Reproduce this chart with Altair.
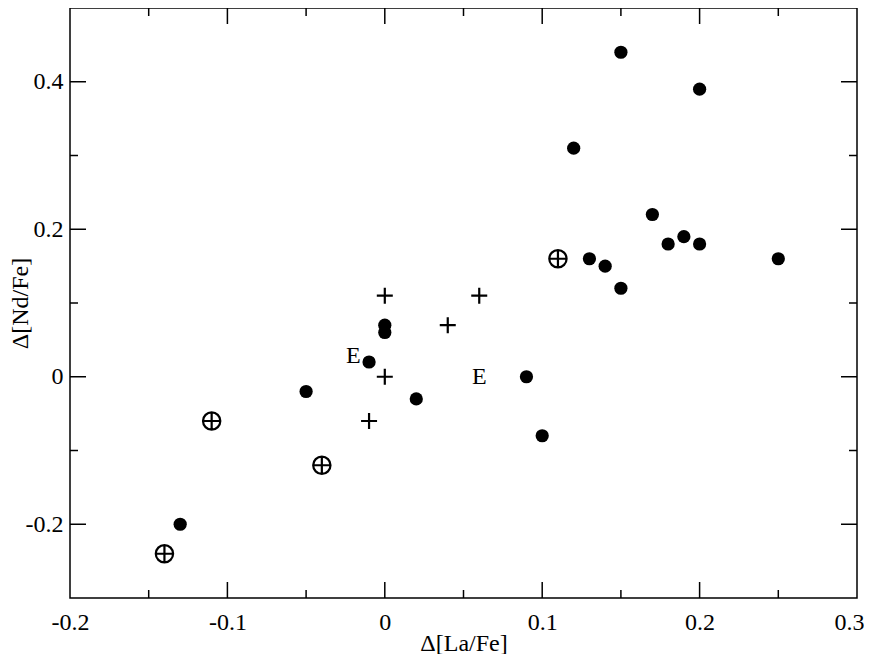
import altair as alt
import pandas as pd

# data
filled_x = [0.15, 0.20, 0.12, 0.17, 0.18, 0.19, 0.20, 0.25, 0.13, 0.14, 0.15, 0.00, 0.00, -0.01, -0.05, 0.02, 0.09, 0.10, -0.13]
filled_y = [0.44, 0.39, 0.31, 0.22, 0.18, 0.19, 0.18, 0.16, 0.16, 0.15, 0.12, 0.07, 0.06, 0.02, -0.02, -0.03, 0.00, -0.08, -0.20]
oplus_x = [0.11, -0.11, -0.04, -0.14]
oplus_y = [0.16, -0.06, -0.12, -0.24]
plus_x = [0.00, 0.06, 0.04, 0.00, -0.01]
plus_y = [0.11, 0.11, 0.07, 0.00, -0.06]
label_text = ["E", "E"]
label_x = [-0.02, 0.06]
label_y = [0.028, 0.0]

x_labels = [-0.2, -0.1, 0, 0.1, 0.2, 0.3]
y_labels = [-0.2, 0, 0.2, 0.4]
x_major = [-0.1, 0, 0.1, 0.2]
x_minor = [-0.15, -0.05, 0.05, 0.15, 0.25]
y_major = [-0.2, 0, 0.2, 0.4]
y_minor = [-0.1, 0.1, 0.3]

W, H = 787, 590
FONT = "Liberation Serif"

label_expr = "datum.value == 0 ? '0' : (datum.value < 0 ? '-' : '') + format(abs(datum.value), '.1f')"

xs = alt.Scale(domain=[-0.2, 0.3], nice=False, zero=False)
ys = alt.Scale(domain=[-0.3, 0.5], nice=False, zero=False)

xaxis = alt.Axis(values=x_labels, labelExpr=label_expr, domain=False, ticks=False, grid=False,
                 labelFont=FONT, labelFontSize=24, labelColor="black", labelPadding=12,
                 labelFlush=False, labelOverlap=False,
                 labelOffset={"expr": "datum.value > 0.25 ? -8 : 0"},
                 title="Δ[La/Fe]", titleFont=FONT, titleFontSize=24, titleFontWeight="normal",
                 titleColor="black", titleY=52, titleBaseline="alphabetic")
yaxis = alt.Axis(values=y_labels, labelExpr=label_expr, domain=False, ticks=False, grid=False,
                 labelFont=FONT, labelFontSize=24, labelColor="black", labelPadding=7,
                 labelFlush=False, labelOverlap=False,
                 title="Δ[Nd/Fe]", titleFont=FONT, titleFontSize=24, titleFontWeight="normal",
                 titleColor="black", titleX=-43, titleBaseline="alphabetic")

def X(f):
    return alt.X(f, type="quantitative", scale=xs, axis=xaxis)

def Y(f):
    return alt.Y(f, type="quantitative", scale=ys, axis=yaxis)

filled = pd.DataFrame({"x": filled_x, "y": filled_y})
oplus = pd.DataFrame({"x": oplus_x, "y": oplus_y})
plus = pd.DataFrame({"x": plus_x, "y": plus_y})
labels = pd.DataFrame({"x": label_x, "y": label_y, "t": label_text})

oplus_path = "M-1,0A1,1 0 1,1 1,0A1,1 0 1,1 -1,0Z M-1,0L1,0 M0,-1L0,1"
plus_path = "M-1,0L1,0 M0,-1L0,1"

def xticks(vals, length):
    d = pd.DataFrame({"v": vals})
    bottom = alt.Chart(d).mark_rule(color="black", strokeWidth=1.5).encode(
        x=X("v"), y=alt.value(H), y2=alt.value(H - length))
    top = alt.Chart(d).mark_rule(color="black", strokeWidth=1.5).encode(
        x=X("v"), y=alt.value(0), y2=alt.value(length))
    return [bottom, top]

def yticks(vals, length):
    d = pd.DataFrame({"v": vals})
    left = alt.Chart(d).mark_rule(color="black", strokeWidth=1.5).encode(
        y=Y("v"), x=alt.value(0), x2=alt.value(length))
    right = alt.Chart(d).mark_rule(color="black", strokeWidth=1.5).encode(
        y=Y("v"), x=alt.value(W), x2=alt.value(W - length))
    return [left, right]

points_filled = alt.Chart(filled).mark_point(shape="circle", filled=True, size=175,
                                             color="black", opacity=1).encode(x=X("x"), y=Y("y"))
points_oplus = alt.Chart(oplus).mark_point(shape=oplus_path, filled=False, size=300, strokeWidth=2.2,
                                           color="black", opacity=1).encode(x=X("x"), y=Y("y"))
points_plus = alt.Chart(plus).mark_point(shape=plus_path, filled=False, size=256, strokeWidth=2.2,
                                         color="black", opacity=1).encode(x=X("x"), y=Y("y"))
text = alt.Chart(labels).mark_text(font=FONT, fontSize=24, color="black", align="center",
                                   baseline="middle").encode(x=X("x"), y=Y("y"), text="t:N")

layers = [points_filled, points_oplus, points_plus, text] \
    + xticks(x_major, 16) + xticks(x_minor, 8) + yticks(y_major, 16) + yticks(y_minor, 8)

chart = alt.layer(*layers).properties(
    width=W, height=H,
    padding={"left": 62, "top": 0, "right": 7, "bottom": 56},
    autosize="none",
    background="white",
).configure_view(stroke="black", strokeWidth=1.5)

chart.save("out.html", embed_options={"renderer": "svg", "actions": False})
